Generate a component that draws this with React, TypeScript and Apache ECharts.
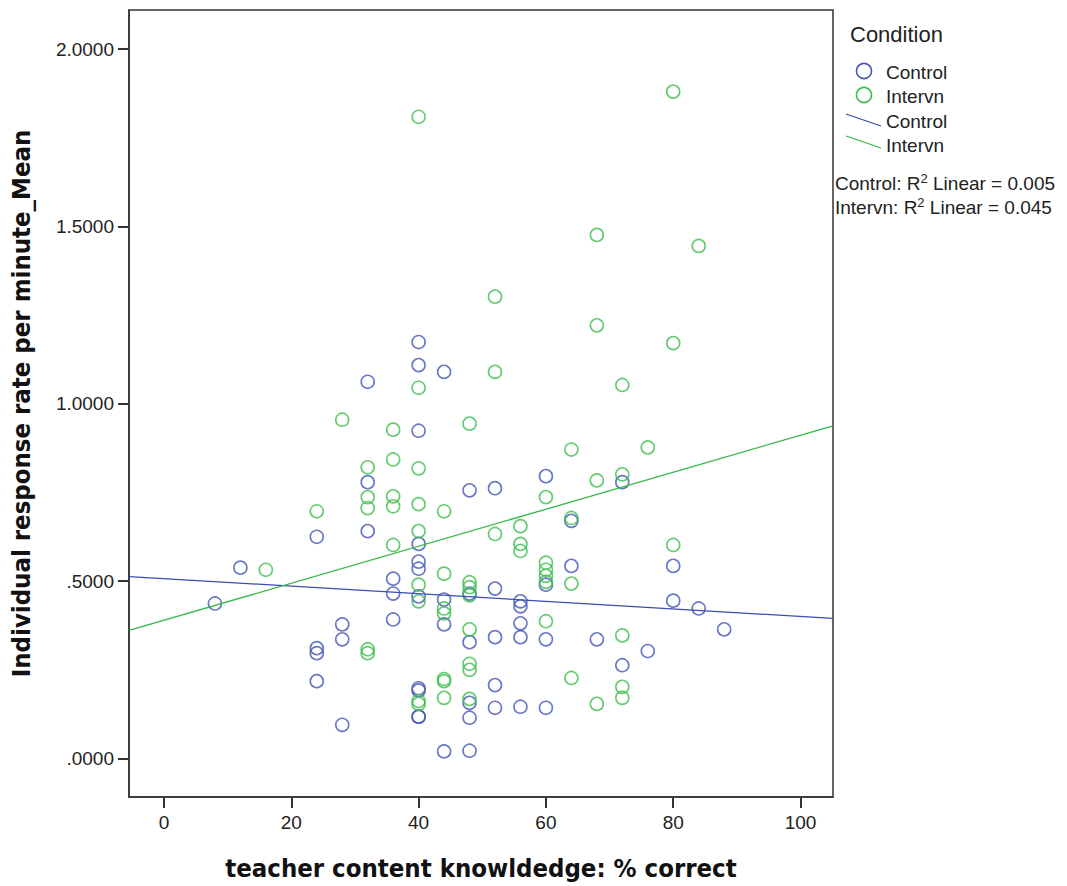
import React, { useEffect, useRef } from "react";
import * as echarts from "echarts";

const xTicks = [0, 20, 40, 60, 80, 100];
const yTicks = [0, 0.5, 1.0, 1.5, 2.0];

const controlX = [
  8, 12, 24, 24, 24, 24, 28, 28, 28, 32, 32, 32, 36, 36, 36,
  40, 40, 40, 40, 40, 40, 40, 40, 40, 40, 40,
  44, 44, 44, 44, 48, 48, 48, 48, 48, 48,
  52, 52, 52, 52, 52, 56, 56, 56, 56, 56,
  60, 60, 60, 60, 64, 64, 68, 72, 72, 76, 80, 80, 84, 88,
];
const controlY = [
  0.437, 0.538, 0.625, 0.311, 0.297, 0.218, 0.378, 0.336, 0.095, 1.062, 0.779, 0.641, 0.507, 0.465, 0.392,
  1.174, 1.109, 0.924, 0.605, 0.555, 0.535, 0.457, 0.198, 0.192, 0.118, 0.118,
  1.090, 0.448, 0.378, 0.020, 0.756, 0.465, 0.328, 0.157, 0.115, 0.022,
  0.762, 0.479, 0.342, 0.207, 0.143, 0.443, 0.429, 0.381, 0.342, 0.146,
  0.796, 0.490, 0.336, 0.143, 0.670, 0.543, 0.336, 0.779, 0.263, 0.303, 0.543, 0.445, 0.423, 0.364,
];

const intervnX = [
  16, 24, 28, 32, 32, 32, 32, 32, 36, 36, 36, 36, 36,
  40, 40, 40, 40, 40, 40, 40, 40, 40,
  44, 44, 44, 44, 44, 44, 44, 48, 48, 48, 48, 48, 48, 48, 48,
  52, 52, 52, 56, 56, 56, 60, 60, 60, 60, 60, 60,
  64, 64, 64, 64, 68, 68, 68, 68, 72, 72, 72, 72, 72, 76, 80, 80, 80, 84,
];
const intervnY = [
  0.532, 0.697, 0.955, 0.821, 0.737, 0.706, 0.308, 0.297, 0.927, 0.843, 0.739, 0.711, 0.602,
  1.809, 1.045, 0.818, 0.717, 0.641, 0.490, 0.443, 0.162, 0.154,
  0.697, 0.521, 0.423, 0.409, 0.224, 0.218, 0.171, 0.944, 0.497, 0.483, 0.460, 0.364, 0.267, 0.250, 0.168,
  1.302, 1.090, 0.633, 0.655, 0.605, 0.585, 0.737, 0.552, 0.532, 0.515, 0.498, 0.387,
  0.871, 0.678, 0.493, 0.227, 1.476, 1.221, 0.784, 0.154, 1.053, 0.801, 0.347, 0.202, 0.171, 0.877, 1.880, 1.171, 0.602, 1.445,
];

// fit lines: [x, y] at the plot edges
const controlFitX = [-5.5, 105.1];
const controlFitY = [0.513, 0.395];
const intervnFitX = [-5.5, 105.1];
const intervnFitY = [0.361, 0.938];

const BLUE = "#4456B8";
const BLUE_LINE = "#3A4DB0";
const GREEN = "#3DBE4E";
const GREEN_LINE = "#34B846";
const FONT = "'Liberation Sans', Arial, sans-serif";
const TITLE_FONT = "'DejaVu Sans Condensed', 'Liberation Sans', Arial, sans-serif";
const AXIS = "#333";

const zip = (xs: number[], ys: number[]) => xs.map((x, i) => [x, ys[i]]);

export default function App() {
  const ref = useRef<HTMLDivElement>(null);
  useEffect(() => {
    if (!ref.current) return;
    const chart = echarts.init(ref.current, undefined, { renderer: "svg" });
    const textStyle = (size: number) => ({ fontFamily: FONT, fontSize: size, fill: "#222" });
    const rich = { sup: { fontFamily: FONT, fontSize: 13, fill: "#222", verticalAlign: "top", lineHeight: 22 } };
    chart.setOption({
      animation: false,
      backgroundColor: "#fff",
      grid: { left: 128, top: 10, right: 234, bottom: 85, show: true, borderColor: AXIS, borderWidth: 1.5 },
      xAxis: {
        type: "value",
        min: -5.5,
        max: 105.1,
        name: "teacher content knowldedge: % correct",
        nameLocation: "middle",
        nameGap: 58,
        nameTextStyle: { fontFamily: TITLE_FONT, fontWeight: "bold", fontSize: 25.5, color: "#111" },
        axisLine: { show: true, onZero: false, lineStyle: { color: AXIS, width: 1.5 } },
        axisTick: { show: true, length: 11, customValues: xTicks, lineStyle: { color: AXIS, width: 2 } },
        axisLabel: { customValues: xTicks, margin: 16, fontFamily: FONT, fontSize: 19, color: "#222" },
        splitLine: { show: false },
      },
      yAxis: {
        type: "value",
        min: -0.1085,
        max: 2.11,
        name: "Individual response rate per minute_Mean",
        nameLocation: "middle",
        nameGap: 95,
        nameTextStyle: { fontFamily: TITLE_FONT, fontWeight: "bold", fontSize: 25.5, color: "#111" },
        axisLine: { show: true, onZero: false, lineStyle: { color: AXIS, width: 1.5 } },
        axisTick: { show: true, length: 11, customValues: yTicks, lineStyle: { color: AXIS, width: 2 } },
        axisLabel: {
          customValues: yTicks,
          margin: 15,
          fontFamily: FONT,
          fontSize: 19,
          color: "#222",
          formatter: (v: number) => v.toFixed(4).replace(/^0/, ""),
        },
        splitLine: { show: false },
      },
      series: [
        {
          name: "Control",
          type: "scatter",
          data: zip(controlX, controlY),
          symbol: "circle",
          symbolSize: 13,
          itemStyle: { color: "rgba(0,0,0,0)", borderColor: BLUE, borderWidth: 1.6 },
        },
        {
          name: "Intervn",
          type: "scatter",
          data: zip(intervnX, intervnY),
          symbol: "circle",
          symbolSize: 13,
          itemStyle: { color: "rgba(0,0,0,0)", borderColor: GREEN, borderWidth: 1.6 },
        },
        {
          name: "Control fit",
          type: "line",
          data: zip(controlFitX, controlFitY),
          showSymbol: false,
          lineStyle: { color: BLUE_LINE, width: 1.3 },
          silent: true,
        },
        {
          name: "Intervn fit",
          type: "line",
          data: zip(intervnFitX, intervnFitY),
          showSymbol: false,
          lineStyle: { color: GREEN_LINE, width: 1.3 },
          silent: true,
        },
      ],
      graphic: [
        { type: "text", x: 850, y: 34, style: { ...textStyle(22), text: "Condition", verticalAlign: "middle" } },
        { type: "circle", shape: { cx: 864, cy: 71, r: 7.5 }, style: { fill: "none", stroke: BLUE, lineWidth: 1.6 } },
        { type: "text", x: 886, y: 72, style: { ...textStyle(19), text: "Control", verticalAlign: "middle" } },
        { type: "circle", shape: { cx: 864, cy: 95, r: 7.5 }, style: { fill: "none", stroke: GREEN, lineWidth: 1.6 } },
        { type: "text", x: 886, y: 96, style: { ...textStyle(19), text: "Intervn", verticalAlign: "middle" } },
        { type: "line", shape: { x1: 846, y1: 114, x2: 881, y2: 126 }, style: { stroke: BLUE_LINE, lineWidth: 1.3 } },
        { type: "text", x: 886, y: 121, style: { ...textStyle(19), text: "Control", verticalAlign: "middle" } },
        { type: "line", shape: { x1: 846, y1: 136, x2: 881, y2: 148 }, style: { stroke: GREEN_LINE, lineWidth: 1.3 } },
        { type: "text", x: 886, y: 145, style: { ...textStyle(19), text: "Intervn", verticalAlign: "middle" } },
        {
          type: "text",
          x: 835,
          y: 183,
          style: { ...textStyle(19), text: "Control: R{sup|2} Linear = 0.005", verticalAlign: "middle", rich },
        },
        {
          type: "text",
          x: 835,
          y: 207,
          style: { ...textStyle(19), text: "Intervn: R{sup|2} Linear = 0.045", verticalAlign: "middle", rich },
        },
      ],
    });
    return () => chart.dispose();
  }, []);
  return (
    <div
      ref={ref}
      style={{ position: "absolute", left: 0, top: 0, width: 1067, height: 886, background: "#fff" }}
    />
  );
}
